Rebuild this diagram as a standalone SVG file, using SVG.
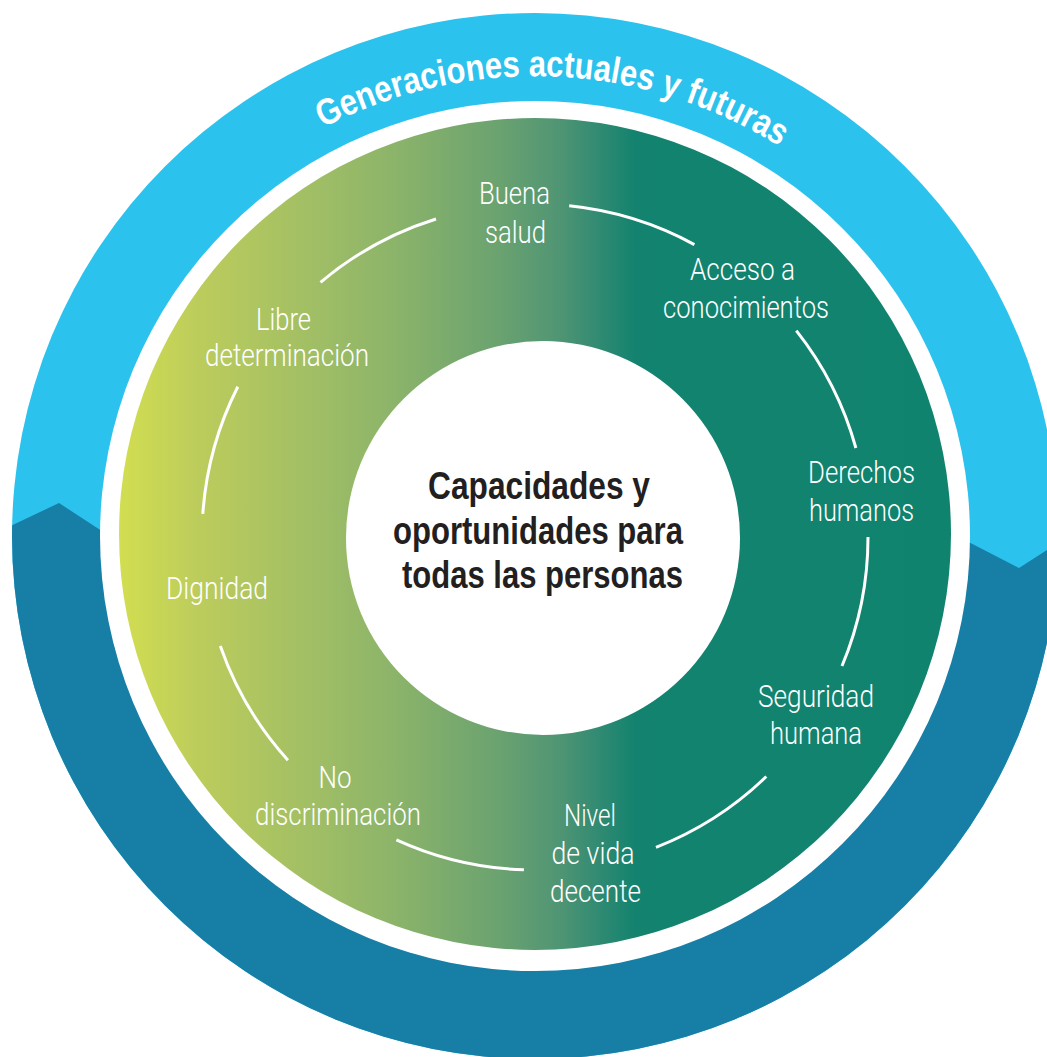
<svg xmlns="http://www.w3.org/2000/svg" width="1047" height="1057" viewBox="0 0 1047 1057">
  <defs>
    <linearGradient id="greenGrad" gradientUnits="userSpaceOnUse" x1="119" y1="0" x2="951" y2="0">
      <stop offset="0" stop-color="#D2DE50"/>
      <stop offset="0.097" stop-color="#BCCC5C"/>
      <stop offset="0.236" stop-color="#A0BE65"/>
      <stop offset="0.338" stop-color="#8AB36A"/>
      <stop offset="0.458" stop-color="#6AA270"/>
      <stop offset="0.53" stop-color="#4F9574"/>
      <stop offset="0.578" stop-color="#308A72"/>
      <stop offset="0.62" stop-color="#13836F"/>
      <stop offset="1" stop-color="#10836F"/>
    </linearGradient>
    <clipPath id="lowerClip">
      <polygon points="0,531 59,503 140,556 955,535 1019,568 1047,550 1047,1057 0,1057"/>
    </clipPath>
    <path id="topArc" d="M 75,536 A 460 460 0 0 1 995,536"/>
    <style>
      .lbl { font-family: Roboto, Lato, "Liberation Sans", sans-serif; font-weight: 300; font-size: 32px; fill: #FFFFFF; text-anchor: middle; }
      .ctr { font-family: "Liberation Sans", Arial, sans-serif; font-weight: bold; font-size: 38px; fill: #231F20; text-anchor: middle; }
      .ring { font-family: "Liberation Sans", Arial, sans-serif; font-weight: bold; font-size: 37px; fill: #FFFFFF; }
      .conn { fill: none; stroke: #FFFFFF; stroke-width: 3; }
    </style>
  </defs>

  <rect x="0" y="0" width="1047" height="1057" fill="#FFFFFF"/>

  <g id="outer-ring">
    <circle cx="535" cy="536" r="523" fill="#2CC2EE"/>
    <circle cx="535" cy="536" r="523" fill="#177EA6" clip-path="url(#lowerClip)"/>
    <circle cx="535" cy="536" r="435" fill="#FFFFFF"/>
    <text class="ring"><textPath href="#topArc" startOffset="51.3%" text-anchor="middle" textLength="478" lengthAdjust="spacingAndGlyphs">Generaciones actuales y futuras</textPath></text>
  </g>

  <g id="green-ring">
    <circle cx="535" cy="534" r="416" fill="url(#greenGrad)"/>
  </g>

  <g id="connectors">
    <path class="conn" d="M 868,537 A 333 333 0 0 1 842,666"/>
    <path class="conn" d="M 766.3,776.5 A 333 333 0 0 1 656,847.3"/>
    <path class="conn" d="M 523.9,869.8 A 333 333 0 0 1 396.4,839.8"/>
    <path class="conn" d="M 287.9,760.2 A 333 333 0 0 1 220.3,646"/>
    <path class="conn" d="M 202.8,513.8 A 333 333 0 0 1 237.8,386.8"/>
    <path class="conn" d="M 320.5,282.3 A 333 333 0 0 1 436,219"/>
    <path class="conn" d="M 569.2,205.8 A 333 333 0 0 1 694.4,244.6"/>
    <path class="conn" d="M 796.3,330.6 A 333 333 0 0 1 855.9,448"/>
  </g>

  <g id="center">
    <circle cx="543" cy="538" r="197" fill="#FFFFFF"/>
    <text class="ctr" x="539" y="499" textLength="222" lengthAdjust="spacingAndGlyphs">Capacidades y</text>
    <text class="ctr" x="538" y="544" textLength="290" lengthAdjust="spacingAndGlyphs">oportunidades para</text>
    <text class="ctr" x="542.5" y="588" textLength="281" lengthAdjust="spacingAndGlyphs">todas las personas</text>
  </g>

  <g id="node-buena-salud">
    <text class="lbl" x="514.5" y="204" textLength="71" lengthAdjust="spacingAndGlyphs">Buena</text>
    <text class="lbl" x="515.5" y="243" textLength="61" lengthAdjust="spacingAndGlyphs">salud</text>
  </g>
  <g id="node-acceso">
    <text class="lbl" x="742.5" y="280" textLength="105" lengthAdjust="spacingAndGlyphs">Acceso a</text>
    <text class="lbl" x="746" y="318" textLength="166" lengthAdjust="spacingAndGlyphs">conocimientos</text>
  </g>
  <g id="node-derechos">
    <text class="lbl" x="861.5" y="483" textLength="107" lengthAdjust="spacingAndGlyphs">Derechos</text>
    <text class="lbl" x="861.5" y="521" textLength="105" lengthAdjust="spacingAndGlyphs">humanos</text>
  </g>
  <g id="node-seguridad">
    <text class="lbl" x="816" y="707" textLength="116" lengthAdjust="spacingAndGlyphs">Seguridad</text>
    <text class="lbl" x="816" y="744" textLength="92" lengthAdjust="spacingAndGlyphs">humana</text>
  </g>
  <g id="node-nivel">
    <text class="lbl" x="590" y="826" textLength="52" lengthAdjust="spacingAndGlyphs">Nivel</text>
    <text class="lbl" x="593" y="864" textLength="83" lengthAdjust="spacingAndGlyphs">de vida</text>
    <text class="lbl" x="595.5" y="902" textLength="91" lengthAdjust="spacingAndGlyphs">decente</text>
  </g>
  <g id="node-no-discriminacion">
    <text class="lbl" x="335" y="788" textLength="33" lengthAdjust="spacingAndGlyphs">No</text>
    <text class="lbl" x="338" y="825" textLength="166" lengthAdjust="spacingAndGlyphs">discriminación</text>
  </g>
  <g id="node-dignidad">
    <text class="lbl" x="217" y="599" textLength="102" lengthAdjust="spacingAndGlyphs">Dignidad</text>
  </g>
  <g id="node-libre">
    <text class="lbl" x="283.5" y="330" textLength="55" lengthAdjust="spacingAndGlyphs">Libre</text>
    <text class="lbl" x="287" y="366" textLength="164" lengthAdjust="spacingAndGlyphs">determinación</text>
  </g>
</svg>
